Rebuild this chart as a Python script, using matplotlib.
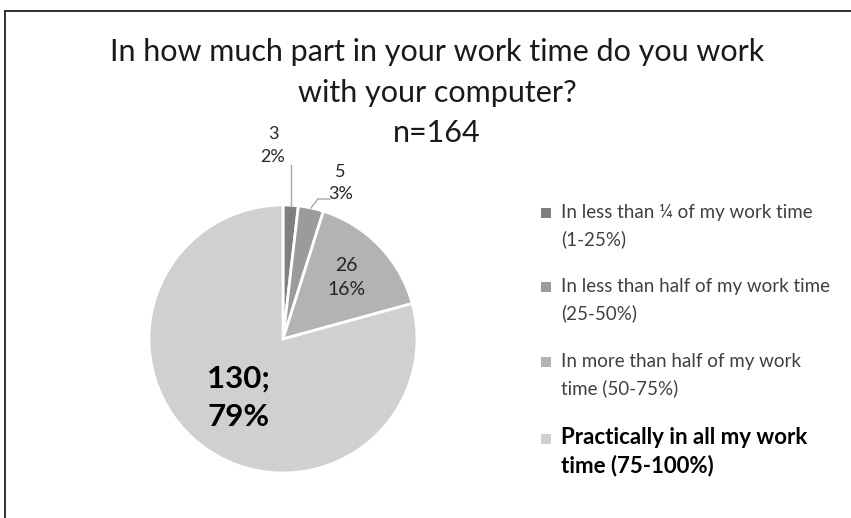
import numpy as np
import matplotlib
matplotlib.use("Agg")
import matplotlib.pyplot as plt
from matplotlib.patches import Rectangle
from matplotlib.lines import Line2D

plt.rcParams['font.family'] = ['Lato', 'DejaVu Sans']

# data
categories = ["In less than \u00bc of my work time\n(1-25%)",
              "In less than half of my work time\n(25-50%)",
              "In more than half of my work\ntime (50-75%)",
              "Practically in all my work\ntime (75-100%)"]
counts = [3, 5, 26, 130]
pct_labels = ["2%", "3%", "16%", "79%"]
colors = ["#7f7f7f", "#9b9b9b", "#b3b3b3", "#d0d0d0"]
title_lines = ["In how much part in your work time do you work",
               "with your computer?",
               "n=164"]

W, H = 851, 518
fig = plt.figure(figsize=(W / 100, H / 100), dpi=100)

# pie axes: centre (283, 339) px from top-left, radius 134 px
cx, cy, r = 283, H - 339, 134
k = 1.5
ax = fig.add_axes([(cx - k * r) / W, (cy - k * r) / H, 2 * k * r / W, 2 * k * r / H])
wedges, _ = ax.pie(counts, colors=colors, startangle=90, counterclock=False,
                   radius=1, wedgeprops=dict(edgecolor="white", linewidth=2))
ax.set_xlim(-k, k)
ax.set_ylim(-k, k)
ax.set_aspect("equal")
ax.axis("off")

mids = [np.deg2rad((w.theta1 + w.theta2) / 2) for w in wedges]
txt = "#262626"

# slice 1: label above with vertical leader
a = mids[0]
x0, y0 = np.cos(a), np.sin(a)
ax.plot([x0, x0], [y0, 1.30], color="#a6a6a6", lw=1)
ax.text(-0.075, 1.445, f"{counts[0]}\n{pct_labels[0]}", ha="center", va="center",
        fontsize=13, color=txt, linespacing=1.5)

# slice 2: label with bent leader
a = mids[1]
x0, y0 = np.cos(a), np.sin(a)
ax.plot([x0, 0.26, 0.35], [y0, 1.045, 1.045], color="#a6a6a6", lw=1)
ax.text(0.43, 1.165, f"{counts[1]}\n{pct_labels[1]}", ha="center", va="center",
        fontsize=13, color=txt, linespacing=1.5)

# slice 3: inside
a = mids[2]
ax.text(0.66 * np.cos(a), 0.66 * np.sin(a), f"{counts[2]}\n{pct_labels[2]}",
        ha="center", va="center", fontsize=14, color=txt, linespacing=1.5)

# slice 4: inside, big bold
a = mids[3]
ax.text(0.55 * np.cos(a), 0.55 * np.sin(a), f"{counts[3]};\n{pct_labels[3]}",
        ha="center", va="center", fontsize=22.5, fontweight="bold", color="black",
        linespacing=1.45)

# title, one text per line
for line, ty in zip(title_lines, [52, 93, 133]):
    fig.text(437 / W, 1 - ty / H, line, ha="center", va="center", fontsize=22,
             color="#1a1a1a")

# legend (manual)
leg_y = [226, 300, 375, 452]
for i, (lab, col) in enumerate(zip(categories, colors)):
    y = H - leg_y[i]
    last = i == len(categories) - 1
    fig.patches.append(Rectangle((541 / W, (y + 8) / H), 10 / W, 10 / H,
                                 transform=fig.transFigure, facecolor=col,
                                 edgecolor="none"))
    fig.text(561 / W, y / H, lab, ha="left", va="center",
             fontsize=16 if last else 13.5,
             fontweight="bold" if last else "normal",
             color="black" if last else "#404040",
             linespacing=1.38 if last else 1.62)

# frame (only left and top edges visible)
fig.add_artist(Line2D([5 / W, 5 / W], [0, 1 - 11 / H], color="#222222", lw=1.3,
                      transform=fig.transFigure))
fig.add_artist(Line2D([5 / W, 1], [1 - 11 / H, 1 - 11 / H], color="#222222", lw=1.3,
                      transform=fig.transFigure))

fig.savefig("out.png", dpi=100, facecolor="white")
